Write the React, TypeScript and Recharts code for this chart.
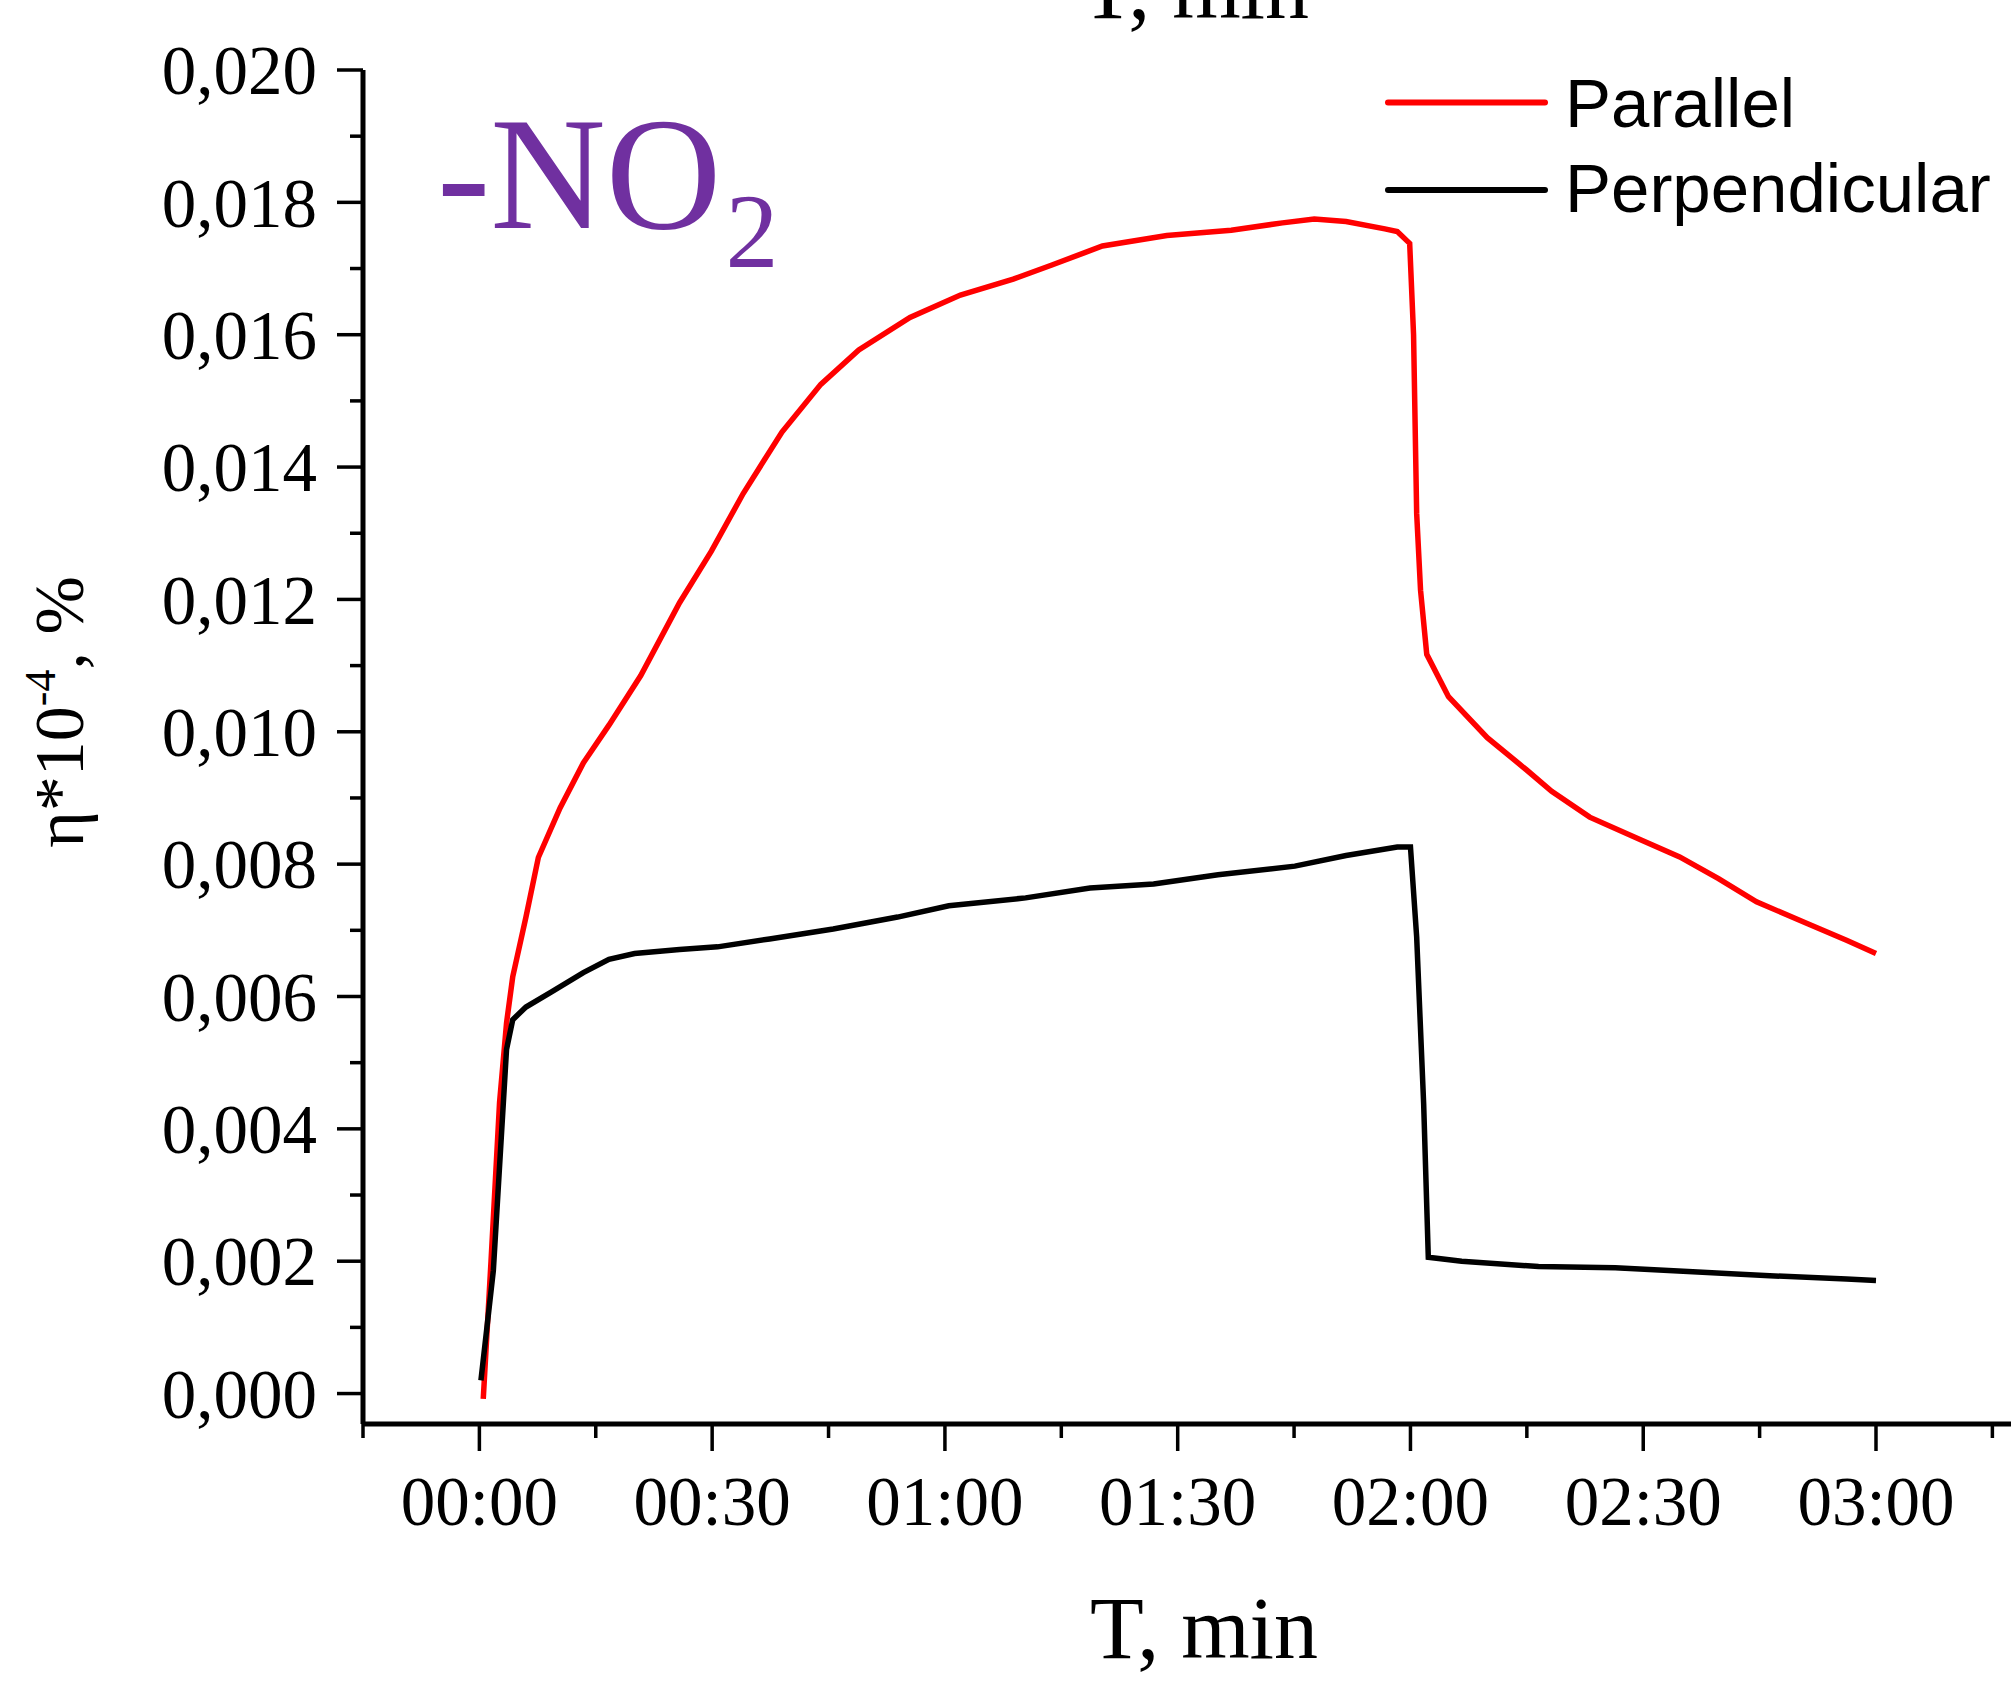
import React from "react";
import { LineChart, Line, XAxis, YAxis, Legend, Customized } from "recharts";

// Time in minutes
const parallelT = [0.5, 1.5, 2.6, 3.5, 4.3, 6, 7.6, 10.4, 13.4, 16.7, 20.8, 25.8, 29.9, 34, 39, 44, 48.9, 55.5, 62, 68.8, 73.7, 80.3, 88.6, 96.9, 103.5, 107.6, 111.7, 116.7, 118.3, 119.9, 120.4, 120.8, 121.3, 122.1, 124.9, 129.9, 134.9, 138.2, 143.1, 149.8, 154.7, 159.7, 164.6, 171.2, 176.2, 180];
const parallelV = [-0.00008, 0.002, 0.0044, 0.0056, 0.0063, 0.0072, 0.0081, 0.00885, 0.00953, 0.0101, 0.01085, 0.01195, 0.01273, 0.0136, 0.01453, 0.01525, 0.01577, 0.01626, 0.0166, 0.01684, 0.01705, 0.01734, 0.0175, 0.01758, 0.01769, 0.01775, 0.01771, 0.0176, 0.01756, 0.01738, 0.016, 0.0133, 0.01214, 0.01117, 0.01053, 0.00991, 0.00943, 0.0091, 0.00871, 0.00836, 0.00811, 0.00778, 0.00743, 0.0071, 0.00685, 0.00665];

const perpT = [0.2, 1.8, 3.5, 4.3, 6, 9.3, 13.4, 16.7, 20, 25.8, 30.7, 37.4, 45.6, 53.9, 60.5, 70.4, 78.7, 86.9, 95.2, 105.1, 111.7, 118.3, 120, 120.8, 121.7, 122.3, 126.6, 136.5, 146.4, 156.4, 166.3, 176.2, 180];
const perpV = [0.0002, 0.00186, 0.0052, 0.00565, 0.00584, 0.00607, 0.00636, 0.00656, 0.00665, 0.00671, 0.00675, 0.00687, 0.00702, 0.0072, 0.00737, 0.00749, 0.00764, 0.0077, 0.00784, 0.00797, 0.00813, 0.00826, 0.00826, 0.0069, 0.00438, 0.00206, 0.002, 0.00192, 0.0019, 0.00184, 0.00178, 0.00173, 0.00171];

const xTicks = [-15, 0, 15, 30, 45, 60, 75, 90, 105, 120, 135, 150, 165, 180, 195];
const xMajorTicks = [0, 30, 60, 90, 120, 150, 180];
const xTickLabels = ["00:00", "00:30", "01:00", "01:30", "02:00", "02:30", "03:00"];
const yTicks = [0, 0.001, 0.002, 0.003, 0.004, 0.005, 0.006, 0.007, 0.008, 0.009, 0.01, 0.011, 0.012, 0.013, 0.014, 0.015, 0.016, 0.017, 0.018, 0.019, 0.02];

const parallelData = parallelT.map((t, i) => ({ t, v: parallelV[i] }));
const perpData = perpT.map((t, i) => ({ t, v: perpV[i] }));

const SERIF = "'Liberation Serif', 'Times New Roman', serif";
const SANS = "'Liberation Sans', Arial, sans-serif";

const XTick = (props: any) => {
  const { x, y, payload } = props;
  const idx = xMajorTicks.indexOf(payload.value);
  const major = idx >= 0;
  return (
    <g>
      <line x1={x} x2={x} y1={y} y2={y + (major ? 27 : 14)} stroke="#000" strokeWidth={3.5} />
      {major && (
        <text x={x} y={y + 101} textAnchor="middle" fontFamily={SERIF} fontSize={69} fill="#000">
          {xTickLabels[idx]}
        </text>
      )}
    </g>
  );
};

const YTick = (props: any) => {
  const { x, y, payload } = props;
  const major = Math.round(payload.value * 1000) % 2 === 0;
  return (
    <g>
      <line x1={x} x2={x - (major ? 26 : 13)} y1={y} y2={y} stroke="#000" strokeWidth={3.5} />
      {major && (
        <text x={x - 46} y={y} dy="0.35em" textAnchor="end" fontFamily={SERIF} fontSize={69} fill="#000">
          {payload.value.toFixed(3).replace(".", ",")}
        </text>
      )}
    </g>
  );
};

const LegendContent = () => (
  <svg width={631} height={180}>
    <line x1={8} x2={165} y1={42.6} y2={42.6} stroke="#FF0000" strokeWidth={6} strokeLinecap="round" />
    <text x={185} y={67} fontFamily={SANS} fontSize={69} fill="#000">Parallel</text>
    <line x1={8} x2={165} y1={130} y2={130} stroke="#000" strokeWidth={6} strokeLinecap="round" />
    <text x={185} y={152} fontFamily={SANS} fontSize={69} fill="#000">Perpendicular</text>
  </svg>
);

const Annotations = () => (
  <g>
    <text x={1195} y={18} textAnchor="middle" fontFamily={SERIF} fontSize={88} fill="#000">T, min</text>
    <text x={1204} y={1658} textAnchor="middle" fontFamily={SERIF} fontSize={88} fill="#000">T, min</text>
    <text transform="translate(83,712) rotate(-90)" textAnchor="middle" fontFamily={SERIF} fontSize={70} fill="#000">
      η*10<tspan fontSize={44} dy={-28}>-4</tspan><tspan dy={28}>, %</tspan>
    </text>
    <text x={437} y={228} fontFamily={SERIF} fontSize={160} fill="#7030A0">
      -NO<tspan fontSize={106} dx={4} dy={39}>2</tspan>
    </text>
  </g>
);

export default function App() {
  return (
    <div style={{ position: "absolute", left: 0, top: 0, width: 2011, height: 1698, background: "#fff" }}>
      <LineChart width={2011} height={1698} margin={{ top: 70, right: 0, bottom: 0, left: 0 }}>
        <XAxis
          type="number"
          dataKey="t"
          domain={[-15, 197.4]}
          ticks={xTicks}
          interval={0}
          allowDataOverflow
          height={274}
          tickSize={0}
          tickMargin={0}
          tickLine={false}
          axisLine={{ stroke: "#000", strokeWidth: 5 }}
          tick={<XTick />}
        />
        <YAxis
          type="number"
          dataKey="v"
          domain={[-0.00046, 0.02]}
          ticks={yTicks}
          interval={0}
          allowDataOverflow
          width={363}
          tickSize={0}
          tickMargin={0}
          tickLine={false}
          axisLine={{ stroke: "#000", strokeWidth: 5 }}
          tick={<YTick />}
        />
        <Line data={parallelData} dataKey="v" name="Parallel" type="linear" stroke="#FF0000" strokeWidth={5.5} dot={false} isAnimationActive={false} />
        <Line data={perpData} dataKey="v" name="Perpendicular" type="linear" stroke="#000000" strokeWidth={5.5} dot={false} isAnimationActive={false} />
        <Legend
          layout="horizontal"
          verticalAlign="middle"
          content={<LegendContent />}
          wrapperStyle={{ position: "absolute", left: 1380, top: 60, width: 631, height: 180 }}
        />
        <Customized component={<Annotations />} />
      </LineChart>
    </div>
  );
}
